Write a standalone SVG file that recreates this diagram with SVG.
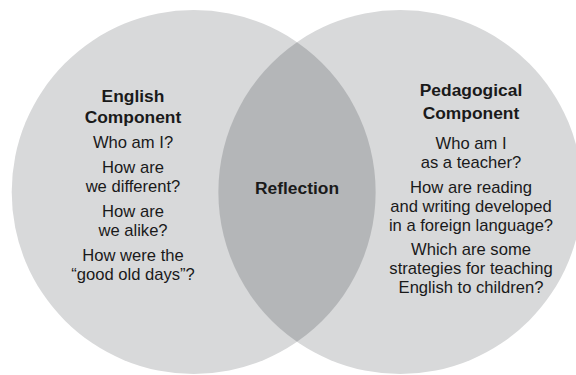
<svg xmlns="http://www.w3.org/2000/svg" width="576" height="375" viewBox="0 0 576 375">
<style>
  .circle { fill: #d8d9da; }
  .lens { fill: #b4b6b8; }
  text { font-family: "Liberation Sans", Arial, sans-serif; fill: #1a1a1a; text-anchor: middle; }
  .h { font-size: 17.4px; font-weight: bold; }
  .t { font-size: 16.6px; }
</style>
<rect width="576" height="375" fill="#ffffff"/>
<g id="english-component">
  <circle class="circle" cx="193.7" cy="192" r="182"/>
</g>
<g id="pedagogical-component">
  <circle class="circle" cx="400.3" cy="192" r="182"/>
</g>
<g id="reflection">
  <path class="lens" d="M297,42.2 A182,182 0 0 1 297,341.8 A182,182 0 0 1 297,42.2 Z"/>
  <text class="h" x="297" y="194">Reflection</text>
</g>
<g id="english-text">
  <text class="h" x="133" y="102">English<tspan x="133" dy="21">Component</tspan></text>
  <text class="t" x="133" y="148.3">Who am I?</text>
  <text class="t" x="133" y="173.3">How are<tspan x="133" dy="19">we different?</tspan></text>
  <text class="t" x="133" y="216.7">How are<tspan x="133" dy="19">we alike?</tspan></text>
  <text class="t" x="133" y="261">How were the<tspan x="133" dy="19">“good old days”?</tspan></text>
</g>
<g id="pedagogical-text">
  <text class="h" x="471" y="96">Pedagogical<tspan x="471" dy="23">Component</tspan></text>
  <text class="t" x="471" y="148.6">Who am I<tspan x="471" dy="19">as a teacher?</tspan></text>
  <text class="t" x="471" y="192.7">How are reading<tspan x="471" dy="19">and writing developed</tspan><tspan x="471" dy="19">in a foreign language?</tspan></text>
  <text class="t" x="471" y="255">Which are some<tspan x="471" dy="19.2">strategies for teaching</tspan><tspan x="471" dy="19.1">English to children?</tspan></text>
</g>
</svg>
